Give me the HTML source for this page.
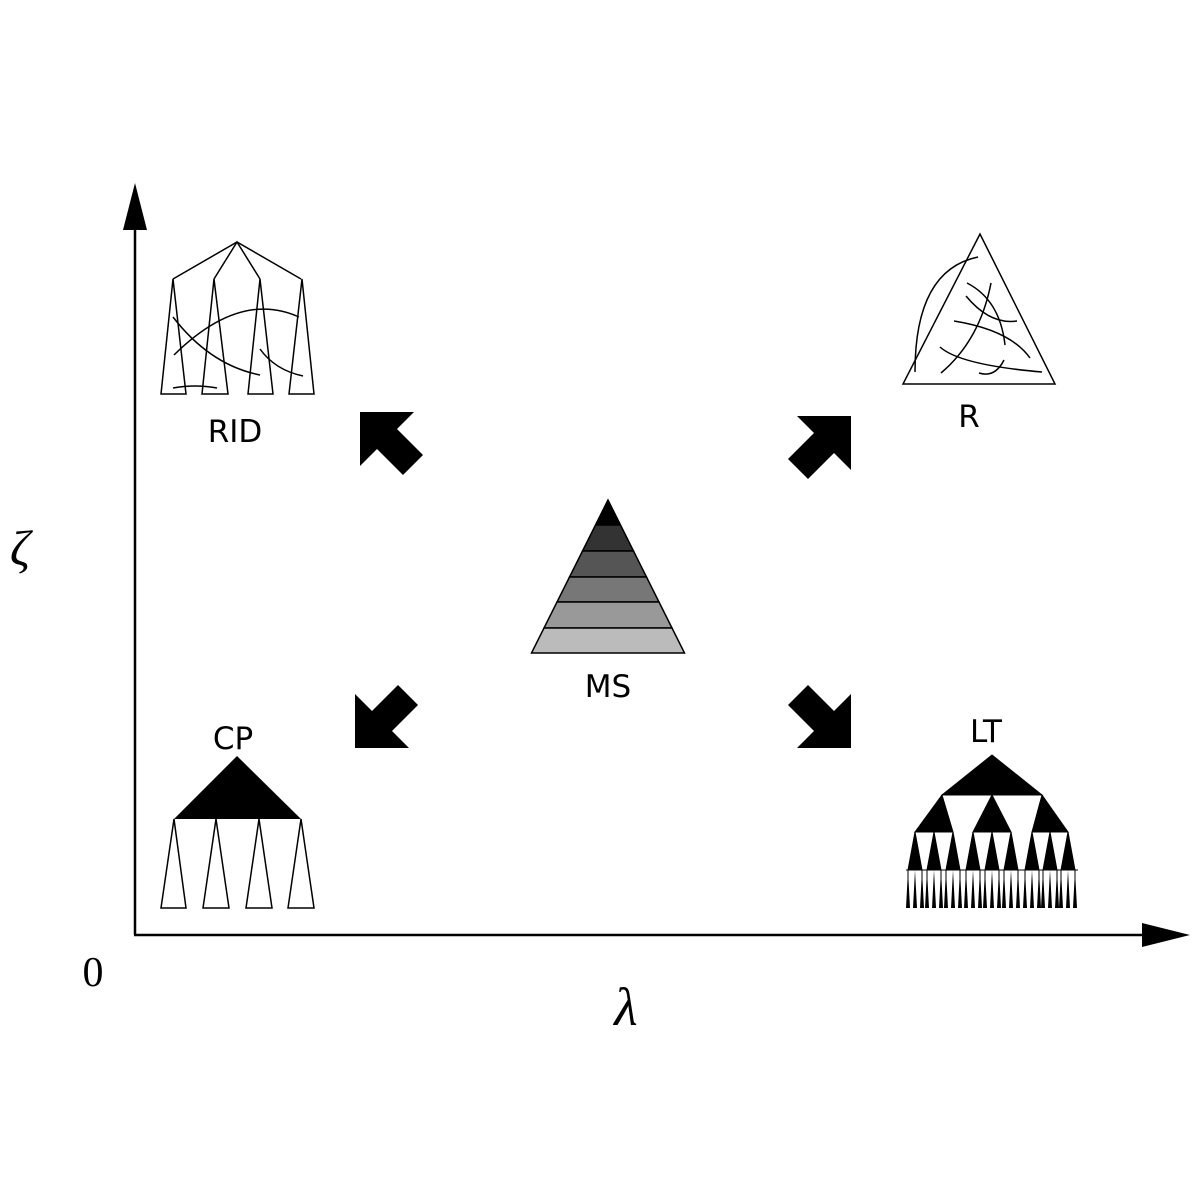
<!DOCTYPE html>
<html><head><style>body{margin:0;background:#fff}svg{display:block}</style></head><body>
<svg width="1200" height="1200" viewBox="0 0 1200 1200" xmlns="http://www.w3.org/2000/svg">
<rect width="1200" height="1200" fill="#fff"/>
<!-- axes -->
<line x1="135" y1="935" x2="135" y2="225" stroke="#000" stroke-width="2.5"/>
<polygon points="135,183 123,230 147,230" fill="#000"/>
<line x1="134" y1="935" x2="1150" y2="935" stroke="#000" stroke-width="2.5"/>
<polygon points="1190,935 1142,923 1142,947" fill="#000"/>
<text x="20" y="565" font-family="Liberation Serif,serif" font-style="italic" font-size="50" text-anchor="middle">ζ</text>
<text x="93" y="986" font-family="Liberation Serif,serif" font-size="42" text-anchor="middle">0</text>
<text x="626" y="1025" font-family="Liberation Serif,serif" font-style="italic" font-size="54" text-anchor="middle">λ</text>
<g font-family="DejaVu Sans,Liberation Sans,sans-serif" font-size="31" text-anchor="middle" fill="#000">
<text x="235" y="442">RID</text>
<text x="969" y="427">R</text>
<text x="608" y="697">MS</text>
<text x="233" y="749">CP</text>
<text x="986" y="742">LT</text>
</g>
<!-- arrows -->
<g fill="#000">
<polygon points="360,412 414,412 397,429 423,455 403,475 377,449 360,466"/>
<polygon points="851,416 797,416 814,433 788,459 808,479 834,453 851,470"/>
<polygon points="355,748 355,694 372,711 398,685 418,705 392,731 409,748"/>
<polygon points="851,748 851,694 834,711 808,685 788,705 814,731 797,748"/>
</g>
<!-- RID -->
<g fill="none" stroke="#000" stroke-width="1.5">
<polyline points="173,279 237,242 301,279"/>
<polyline points="214,279 237,242 260,279"/>
<polygon points="173,279 161,394 186,394"/>
<polygon points="214,279 202,394 228,394"/>
<polygon points="260,279 248,394 273,394"/>
<polygon points="302,279 289,394 314,394"/>
<path d="M173,317 Q210,365 260,375"/>
<path d="M174,355 Q240,290 299,317"/>
<path d="M260,349 Q275,370 303,376"/>
<path d="M173,388 Q195,384 217,388"/>
</g>
<!-- R -->
<g fill="none" stroke="#000" stroke-width="1.5">
<polygon points="980,234 903,384 1055,384"/>
<path d="M978,257 Q915,270 915,372"/>
<path d="M967,283 Q1000,300 1005,345"/>
<path d="M966,296 Q990,325 1017,321"/>
<path d="M954,321 Q1010,330 1030,358"/>
<path d="M991,283 Q980,340 941,373"/>
<path d="M940,347 Q960,365 1042,372"/>
<path d="M979,373 Q995,378 1004,360"/>
</g>
<!-- MS -->
<g stroke="#000" stroke-width="1.5">
<polygon points="608,500 595.5,525 620.5,525" fill="#000"/>
<polygon points="595.5,525 620.5,525 633.5,551 582.5,551" fill="#333"/>
<polygon points="582.5,551 633.5,551 646.5,577 569.5,577" fill="#555"/>
<polygon points="569.5,577 646.5,577 659,602 557,602" fill="#777"/>
<polygon points="557,602 659,602 672,628 544,628" fill="#999"/>
<polygon points="544,628 672,628 684.5,653 531.5,653" fill="#bbb"/>
</g>
<!-- CP -->
<polygon points="237,756 174,819 301,819" fill="#000"/>
<g fill="none" stroke="#000" stroke-width="1.5">
<polygon points="174,819 161,908 186,908"/>
<polygon points="216,819 203,908 229,908"/>
<polygon points="259,819 246,908 272,908"/>
<polygon points="301,819 288,908 314,908"/>
</g>
<!-- LT -->
<g fill="#000" stroke="#000" stroke-width="1">
<polygon points="992,755 942,795 1042,795"/>
<polygon points="942,795 915,832 953,832"/>
<polygon points="992,795 973,832 1011,832"/>
<polygon points="1042,795 1032,832 1068,832"/>
<line x1="915" y1="832" x2="953" y2="832"/>
<line x1="973" y1="832" x2="1011" y2="832"/>
<line x1="1032" y1="832" x2="1068" y2="832"/>
<polygon points="915,832 908,870 922,870"/>
<polygon points="934,832 927,870 941,870"/>
<polygon points="953,832 946,870 960,870"/>
<polygon points="973,832 966,870 980,870"/>
<polygon points="992,832 985,870 999,870"/>
<polygon points="1011,832 1004,870 1018,870"/>
<polygon points="1032,832 1025,870 1039,870"/>
<polygon points="1050,832 1043,870 1057,870"/>
<polygon points="1068,832 1061,870 1075,870"/>
<line x1="906" y1="870" x2="1078" y2="870" stroke-width="1"/>
</g>
<g fill="#000">
<path d="M908,870 L910,908 L906,908 Z M915,870 L917,908 L913,908 Z M922,870 L924,908 L920,908 Z
M927,870 L929,908 L925,908 Z M934,870 L936,908 L932,908 Z M941,870 L943,908 L939,908 Z
M946,870 L948,908 L944,908 Z M953,870 L955,908 L951,908 Z M960,870 L962,908 L958,908 Z
M966,870 L968,908 L964,908 Z M973,870 L975,908 L971,908 Z M980,870 L982,908 L978,908 Z
M985,870 L987,908 L983,908 Z M992,870 L994,908 L990,908 Z M999,870 L1001,908 L997,908 Z
M1004,870 L1006,908 L1002,908 Z M1011,870 L1013,908 L1009,908 Z M1018,870 L1020,908 L1016,908 Z
M1025,870 L1027,908 L1023,908 Z M1032,870 L1034,908 L1030,908 Z M1039,870 L1041,908 L1037,908 Z
M1043,870 L1045,908 L1041,908 Z M1050,870 L1052,908 L1048,908 Z M1057,870 L1059,908 L1055,908 Z
M1061,870 L1063,908 L1059,908 Z M1068,870 L1070,908 L1066,908 Z M1075,870 L1077,908 L1073,908 Z"/>
</g>
<g stroke="#000" stroke-width="1">
<path d="M908,870 V908 M922,870 V908 M927,870 V908 M941,870 V908 M946,870 V908 M960,870 V908 M966,870 V908 M980,870 V908 M985,870 V908 M999,870 V908 M1004,870 V908 M1018,870 V908 M1025,870 V908 M1039,870 V908 M1043,870 V908 M1057,870 V908 M1061,870 V908 M1075,870 V908"/>
</g>
</svg>
</body></html>
